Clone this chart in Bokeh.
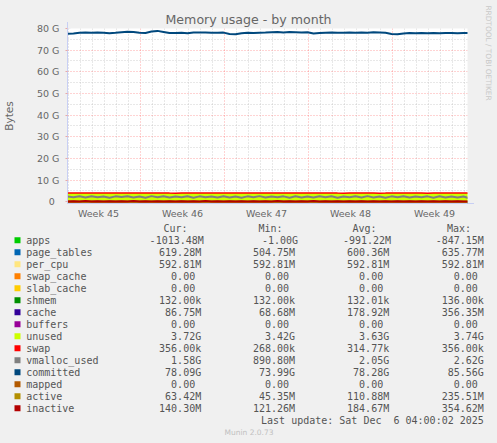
import math
from bokeh.plotting import figure
from bokeh.models import ColumnDataSource, FixedTicker, Range1d, Label, Arrow, NormalHead
from bokeh.embed import file_html
from bokeh.resources import INLINE
from bokeh.core.properties import value
from bokeh.transform import stack

# ---------------- data ----------------
# time axis: days since 2025-11-01 00:00, one sample every 12 h starting Nov 2 22:00
T0 = 1.0 + 22.0 / 24.0
times = [T0 + 0.5 * k for k in range(68)]

week_pos = [4.5, 11.5, 18.5, 25.5, 32.5]
week_labels = ["Week 45", "Week 46", "Week 47", "Week 48", "Week 49"]
week_lines = [8, 15, 22, 29]
day_lines = [d for d in range(2, 36) if d not in (8, 15, 22, 29)]

y_ticks = [0, 10, 20, 30, 40, 50, 60, 70, 80]
y_minor = [5, 15, 25, 35, 45, 55, 65, 75]
y_labels = ["0\u2002", "10 G", "20 G", "30 G", "40 G", "50 G", "60 G", "70 G", "80 G"]

committed = [77.6, 77.7, 78.0, 78.1, 78.0, 78.2, 78.0, 77.8, 78.0, 78.3,
             78.5, 78.4, 78.0, 77.9, 78.6, 78.9, 78.4, 77.9, 77.9, 78.0,
             77.8, 78.1, 78.2, 78.2, 78.0, 78.0, 78.1, 77.5, 77.3, 77.8,
             78.0, 77.9, 78.0, 78.1, 78.3, 78.4, 78.2, 78.4, 78.3, 78.2,
             78.3, 77.7, 77.9, 78.0, 78.1, 78.0, 78.0, 78.1, 78.0, 78.1,
             78.0, 78.3, 78.2, 78.0, 77.5, 77.3, 77.7, 77.9, 77.8, 77.9,
             77.8, 77.9, 77.8, 77.9, 77.9, 77.8, 77.9, 77.9]

apps = [-0.95, -0.97, -0.99, -1.00, -0.98, -0.99, -1.00, -0.97, -0.96, -0.99,
        -1.00, -0.98, -0.97, -0.99, -1.00, -0.98, -0.96, -0.99, -1.00, -0.98,
        -0.99, -1.00, -0.97, -0.99, -1.00, -0.98, -0.99, -1.00, -0.96, -0.98,
        -1.00, -0.99, -0.97, -1.00, -0.99, -0.98, -1.00, -0.99, -0.97, -0.99,
        -1.00, -0.98, -0.99, -1.00, -0.97, -0.99, -1.00, -0.98, -0.99, -1.00,
        -0.97, -0.99, -1.00, -0.98, -0.90, -0.96, -0.99, -1.00, -0.98, -0.99,
        -1.00, -0.97, -0.99, -1.00, -0.98, -0.99, -0.99, -0.99]

page_tables = [0.60, 0.60, 0.61, 0.60, 0.59, 0.60, 0.61, 0.60, 0.60, 0.61,
               0.60, 0.59, 0.60, 0.61, 0.60, 0.60, 0.61, 0.60, 0.59, 0.60,
               0.61, 0.60, 0.60, 0.59, 0.60, 0.61, 0.60, 0.50, 0.58, 0.60,
               0.60, 0.61, 0.60, 0.60, 0.59, 0.60, 0.61, 0.60, 0.60, 0.59,
               0.60, 0.61, 0.60, 0.60, 0.61, 0.60, 0.59, 0.60, 0.60, 0.61,
               0.60, 0.60, 0.59, 0.60, 0.61, 0.60, 0.60, 0.61, 0.60, 0.60,
               0.59, 0.60, 0.61, 0.60, 0.60, 0.61, 0.60, 0.60]

per_cpu = [0.5928] * 68
swap_cache = [0.0] * 68
slab_cache = [0.0] * 68
shmem = [0.000126] * 68
buffers = [0.0] * 68
swap = [0.0003] * 68
mapped = [0.0] * 68

cache = [0.12, 0.30, 0.15, 0.26, 0.10, 0.33, 0.14, 0.22, 0.09, 0.28,
         0.13, 0.35, 0.16, 0.24, 0.11, 0.30, 0.12, 0.20, 0.08, 0.27,
         0.14, 0.31, 0.12, 0.25, 0.10, 0.29, 0.15, 0.21, 0.07, 0.26,
         0.13, 0.32, 0.11, 0.24, 0.09, 0.30, 0.16, 0.22, 0.10, 0.28,
         0.12, 0.34, 0.14, 0.23, 0.08, 0.29, 0.13, 0.21, 0.09, 0.27,
         0.15, 0.31, 0.12, 0.25, 0.10, 0.30, 0.14, 0.20, 0.08, 0.26,
         0.13, 0.29, 0.11, 0.24, 0.09, 0.28, 0.12, 0.09]

unused = [3.68, 3.50, 3.65, 3.54, 3.70, 3.47, 3.66, 3.58, 3.71, 3.52,
          3.67, 3.45, 3.64, 3.56, 3.69, 3.50, 3.68, 3.60, 3.72, 3.53,
          3.66, 3.49, 3.68, 3.55, 3.70, 3.51, 3.65, 3.69, 3.73, 3.54,
          3.67, 3.48, 3.69, 3.56, 3.71, 3.50, 3.64, 3.58, 3.70, 3.52,
          3.68, 3.46, 3.66, 3.57, 3.72, 3.51, 3.67, 3.59, 3.71, 3.53,
          3.65, 3.49, 3.68, 3.55, 3.70, 3.50, 3.66, 3.60, 3.72, 3.54,
          3.67, 3.51, 3.69, 3.56, 3.71, 3.52, 3.68, 3.71]

vmalloc_used = [2.45, 2.10, 2.50, 1.95, 2.55, 2.05, 2.40, 1.90, 2.50, 2.15,
                2.55, 2.00, 2.45, 1.85, 2.60, 2.10, 2.50, 1.95, 2.45, 2.05,
                2.55, 1.90, 2.50, 2.10, 2.40, 1.95, 2.55, 2.00, 2.45, 1.90,
                2.50, 2.05, 2.60, 1.95, 2.45, 2.10, 2.50, 1.90, 2.55, 2.00,
                2.45, 1.95, 2.50, 2.05, 2.55, 1.90, 2.45, 2.10, 2.50, 1.95,
                2.60, 2.00, 2.45, 1.90, 2.50, 2.05, 2.55, 1.95, 2.45, 2.10,
                2.50, 1.85, 2.55, 2.00, 2.45, 1.95, 2.40, 1.60]

active = [0.08, 0.15, 0.06, 0.20, 0.07, 0.12, 0.05, 0.18, 0.09, 0.14,
          0.06, 0.22, 0.08, 0.13, 0.05, 0.17, 0.07, 0.12, 0.06, 0.19,
          0.08, 0.14, 0.05, 0.21, 0.07, 0.13, 0.06, 0.16, 0.08, 0.12,
          0.05, 0.18, 0.07, 0.14, 0.06, 0.20, 0.08, 0.13, 0.05, 0.15,
          0.07, 0.23, 0.06, 0.12, 0.08, 0.17, 0.05, 0.14, 0.07, 0.19,
          0.06, 0.13, 0.08, 0.18, 0.05, 0.15, 0.07, 0.12, 0.06, 0.16,
          0.08, 0.14, 0.05, 0.19, 0.07, 0.12, 0.06, 0.06]

inactive = [0.15, 0.26, 0.13, 0.30, 0.14, 0.22, 0.12, 0.28, 0.16, 0.24,
            0.13, 0.35, 0.15, 0.21, 0.12, 0.27, 0.14, 0.20, 0.13, 0.29,
            0.16, 0.23, 0.12, 0.31, 0.14, 0.22, 0.13, 0.26, 0.15, 0.20,
            0.12, 0.28, 0.14, 0.23, 0.13, 0.30, 0.15, 0.21, 0.12, 0.25,
            0.14, 0.33, 0.13, 0.20, 0.15, 0.27, 0.12, 0.22, 0.14, 0.29,
            0.13, 0.21, 0.15, 0.28, 0.12, 0.24, 0.14, 0.20, 0.13, 0.26,
            0.15, 0.23, 0.12, 0.29, 0.14, 0.20, 0.13, 0.14]

legend_names = ["apps", "page_tables", "per_cpu", "swap_cache", "slab_cache", "shmem",
                "cache", "buffers", "unused", "swap", "vmalloc_used", "committed",
                "mapped", "active", "inactive"]
legend_colors = ["#00CC00", "#0066B3", "#FFE680", "#FF8000", "#FFCC00", "#008F00",
                 "#330099", "#990099", "#CCFF00", "#FF0000", "#808080", "#00487D",
                 "#B35A00", "#B38F00", "#B30000"]
cur_vals = ["-1013.48M", "619.28M", "592.81M", "0.00", "0.00", "132.00k", "86.75M", "0.00",
            "3.72G", "356.00k", "1.58G", "78.09G", "0.00", "63.42M", "140.30M"]
min_vals = ["-1.00G", "504.75M", "592.81M", "0.00", "0.00", "132.00k", "68.68M", "0.00",
            "3.42G", "268.00k", "890.80M", "73.99G", "0.00", "45.35M", "121.26M"]
avg_vals = ["-991.22M", "600.36M", "592.81M", "0.00", "0.00", "132.01k", "178.92M", "0.00",
            "3.63G", "314.77k", "2.05G", "78.28G", "0.00", "110.88M", "184.67M"]
max_vals = ["-847.15M", "635.77M", "592.81M", "0.00", "0.00", "136.00k", "356.35M", "0.00",
            "3.74G", "356.00k", "2.62G", "85.56G", "0.00", "235.51M", "354.62M"]

# ---------------- styles / layout ----------------
BG = "#F0F0F0"
LAV = "#C8CFF4"
TXT = "#666666"
LEG = "#555555"

W = 497
CH = 222            # height of chart canvas
FL, FT, FW, FH = 67, 28, 400, 175
XS, XE = T0, 35.25
YS, YE = -0.8, 80.0
PPD = FW / (XE - XS)
PPG = FH / (YE - YS)

p = figure(width=W, height=CH, output_backend="svg", toolbar_location=None,
           x_range=Range1d(XS, XE), y_range=Range1d(YS, YE),
           min_border_left=FL, min_border_right=W - FL - FW,
           min_border_top=FT, min_border_bottom=CH - FT - FH)
p.background_fill_color = "#FFFFFF"
p.border_fill_color = BG
p.outline_line_color = None

p.title.text = "Memory usage - by month"
p.title.align = "left"
p.title.offset = 98
p.title.standoff = 3
p.title.text_font = "DejaVu Sans"
p.title.text_font_size = "12.6px"
p.title.text_font_style = "normal"
p.title.text_color = TXT

# grids
p.xgrid.ticker = FixedTicker(ticks=week_lines, minor_ticks=day_lines)
p.ygrid.ticker = FixedTicker(ticks=y_ticks, minor_ticks=y_minor)
for g in (p.xgrid, p.ygrid):
    g.grid_line_color = "#FF0000"
    g.grid_line_alpha = 0.35
    g.grid_line_dash = "1 2"
    g.minor_grid_line_color = "#B0B0B0"
    g.minor_grid_line_alpha = 0.6
    g.minor_grid_line_dash = "1 2"

# axes
p.xaxis.ticker = FixedTicker(ticks=week_pos)
p.xaxis.major_label_overrides = {w: l for w, l in zip(week_pos, week_labels)}
p.xaxis.major_tick_line_color = None
p.xaxis.major_tick_out = 0
p.xaxis.major_tick_in = 0
p.xaxis.minor_tick_line_color = None
p.xaxis.major_label_standoff = 4
p.yaxis.ticker = FixedTicker(ticks=y_ticks)
p.yaxis.major_label_overrides = {t: l for t, l in zip(y_ticks, y_labels)}
p.yaxis.major_tick_out = 2
p.yaxis.major_tick_in = 0
p.yaxis.major_tick_line_color = "#E8A8A8"
p.yaxis.minor_tick_line_color = None
p.yaxis.major_label_standoff = 6
p.yaxis.axis_label = "Bytes"
p.yaxis.axis_label_standoff = 19
p.yaxis.axis_label_text_font = "DejaVu Sans"
p.yaxis.axis_label_text_font_size = "10.5px"
p.yaxis.axis_label_text_font_style = "normal"
p.yaxis.axis_label_text_color = TXT
for ax in (p.xaxis, p.yaxis):
    ax.axis_line_color = LAV
    ax.axis_line_width = 1
    ax.major_label_text_font = "DejaVu Sans"
    ax.major_label_text_font_size = "9.5px"
    ax.major_label_text_color = TXT

src = ColumnDataSource(dict(x=times, apps=apps, page_tables=page_tables, per_cpu=per_cpu,
                            swap_cache=swap_cache, slab_cache=slab_cache, shmem=shmem,
                            cache=cache, buffers=buffers, unused=unused, swap=swap,
                            vmalloc_used=vmalloc_used, committed=committed, mapped=mapped,
                            active=active, inactive=inactive))

stackers = legend_names[:10]
p.varea_stack(stackers=stackers, x="x", color=legend_colors[:10], source=src)
p.line(x="x", y=stack(*stackers), source=src, line_color="#FF0000", line_width=1.5)
for name, col in zip(legend_names[10:], legend_colors[10:]):
    p.line(x="x", y=name, source=src, line_color=col, line_width=2)

# vertical watermark in the right-hand panel
p.add_layout(Label(x=21, y=150.5, x_units="screen", y_units="screen",
                   text="RRDTOOL / TOBI OETIKER", angle=-math.pi / 2,
                   text_align="center", text_baseline="middle", text_font="DejaVu Sans",
                   text_font_size="7.4px", text_color="#C8C8C8"), "right")

# axis arrows (drawn in side panels so they are not clipped to the plot area)
p.add_layout(Arrow(end=NormalHead(size=6, fill_color=LAV, line_color=LAV),
                   x_start=XE, y_start=YS, x_end=XE + 6.5 / PPD, y_end=YS,
                   line_color=LAV, line_width=1), "right")
p.add_layout(Arrow(end=NormalHead(size=6, fill_color=LAV, line_color=LAV),
                   x_start=XS, y_start=YE, x_end=XS, y_end=YE + 6.5 / PPG,
                   line_color=LAV, line_width=1), "above")

# ---------------- legend canvas (data units == page pixels) ----------------
LT = CH
q = figure(width=W, height=443 - LT, output_backend="svg", toolbar_location=None,
           x_range=Range1d(0, W), y_range=Range1d(443, LT),
           x_axis_type=None, y_axis_type=None,
           min_border_left=0, min_border_right=0, min_border_top=0, min_border_bottom=0)
q.background_fill_color = BG
q.border_fill_color = BG
q.outline_line_color = None
q.grid.visible = False

row_y = [239.7 + 12 * i for i in range(len(legend_names))]
q.rect(x=[17] * len(row_y), y=row_y, width=6, height=6, fill_color=legend_colors, line_color=None)

mono = value("DejaVu Sans Mono")
fs = value("10px")
q.text(x=[25.7] * len(row_y), y=row_y, text=legend_names, text_font=mono, text_font_size=fs,
       text_align="left", text_baseline="middle", text_color=LEG)

q.text(x=[163.0, 258.0, 352.0, 446.4], y=[228.3] * 4, text=["Cur:", "Min:", "Avg:", "Max:"],
       text_font=mono, text_font_size=fs, text_align="left", text_baseline="middle",
       text_color=LEG)

col_ends = [200.7, 294.6, 388.7, 483.3]
apps_ends = [203.3, 297.6, 390.6, 483.3]
for ci, vals in enumerate([cur_vals, min_vals, avg_vals, max_vals]):
    xs = []
    texts = []
    for ri, v in enumerate(vals):
        xs.append(apps_ends[ci] if ri == 0 else col_ends[ci])
        texts.append(v if v[-1].isalpha() else v + "\u00a0")
    q.text(x=xs, y=row_y, text=texts, text_font=mono, text_font_size=fs,
           text_align="right", text_baseline="middle", text_color=LEG)

q.text(x=[483.3], y=[419.7], text=["Last update: Sat Dec \u00a06 04:00:02 2025"],
       text_font=mono, text_font_size=fs, text_align="right", text_baseline="middle",
       text_color=LEG)
q.text(x=[248.5], y=[431.7], text=["Munin 2.0.73"], text_font=value("DejaVu Sans"),
       text_font_size=value("7.5px"), text_align="center", text_baseline="middle",
       text_color="#C0C0C0")

html = file_html([p, q], INLINE, title="Memory usage - by month")
html = html.replace("<head>", "<head><style>html, body { background: #F0F0F0; }</style>", 1)
open("out.html", "w").write(html)
